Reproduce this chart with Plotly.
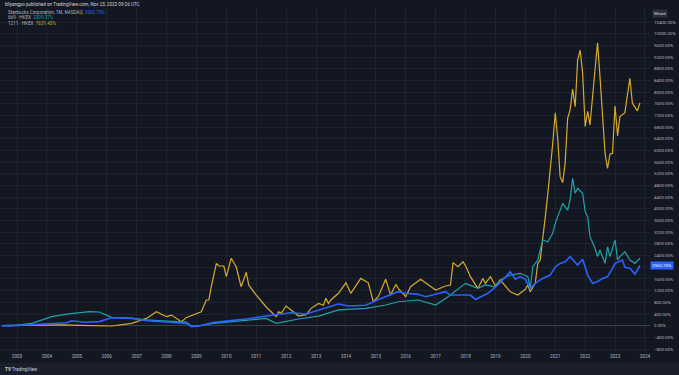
import plotly.graph_objects as go

# ---------------- data (percent change since mid-2002) ----------------
sbux_dates = ["2002-07","2002-10","2003-01","2003-07","2004-01","2004-09","2004-11","2005-04","2005-10",
              "2006-03","2006-11","2007-05","2008-01","2008-09","2008-11","2009-02","2009-08","2010-03",
              "2010-09","2011-05","2011-10","2012-03","2012-09","2013-02","2013-10","2014-02","2014-09",
              "2015-02","2015-10","2016-01","2016-06","2016-09","2017-05","2017-07","2018-03","2018-05",
              "2018-10","2019-02","2019-07","2019-09","2019-11","2020-01","2020-03","2020-05","2020-08",
              "2020-11","2021-01","2021-03","2021-05","2021-07","2021-09","2021-10","2021-12","2022-02",
              "2022-04","2022-06","2022-08","2022-10","2022-12","2023-01","2023-04","2023-05","2023-07",
              "2023-09","2023-11"]
sbux_vals = [0,-10,10,40,80,100,170,120,140,
             275,250,170,125,80,-30,-10,115,170,
             230,330,380,445,400,540,745,675,700,
             900,1165,1110,1075,995,1165,1050,1050,900,
             1110,1395,1850,1590,1680,1590,1280,1450,1620,
             1735,2020,2135,2190,2365,2190,2080,2275,1735,
             1450,1505,1620,1680,1965,2135,2250,2000,1965,
             1770,2062.75]

tti_dates = ["2002-07","2003-01","2003-07","2004-01","2004-03","2004-09","2005-02","2005-06","2005-10",
             "2006-01","2006-03","2006-11","2007-05","2008-01","2008-09","2008-11","2009-02","2009-08",
             "2010-03","2011-05","2011-09","2012-06","2013-02","2013-10","2014-09","2015-05","2015-10",
             "2016-06","2017-01","2017-06","2018-01","2018-06","2018-09","2019-01","2019-03","2019-07",
             "2019-11","2020-02","2020-03","2020-04","2020-06","2020-08","2020-10","2020-12","2021-01",
             "2021-03","2021-04","2021-06","2021-07","2021-08","2021-09","2021-10","2021-12","2022-01",
             "2022-02","2022-03","2022-05","2022-06","2022-07","2022-09","2022-10","2022-11","2023-01",
             "2023-02","2023-03","2023-05","2023-07","2023-09","2023-11"]
tti_vals = [0,20,80,250,310,400,445,480,470,
            365,285,260,200,160,120,-20,0,80,
            140,250,80,230,330,540,595,710,820,
            880,710,995,1450,1280,1395,1335,1565,1735,
            1795,1680,1280,2020,2250,2935,2875,3165,3505,
            3960,4190,3960,4305,5050,4535,4705,4535,3905,
            3735,3050,2650,2365,2590,2135,2705,2365,2935,
            2250,2365,2535,2250,2135,2309.37]

byd_dates = ["2002-07","2003-01","2003-07","2004-01","2004-07","2005-02","2005-10","2006-03","2006-11",
             "2007-05","2007-09","2008-01","2008-03","2008-07","2008-09","2009-01","2009-03","2009-05",
             "2009-06","2009-07","2009-09","2009-10","2009-12","2010-01","2010-03","2010-05","2010-07",
             "2010-09","2010-10","2011-01","2011-05","2011-09","2011-10","2011-11","2012-01","2012-03",
             "2012-06","2012-09","2012-11","2013-02","2013-04","2013-05","2013-06","2013-07","2013-10",
             "2014-01","2014-03","2014-07","2014-10","2014-12","2015-02","2015-05","2015-07","2015-09",
             "2015-10","2016-01","2016-03","2016-07","2016-10","2017-01","2017-05","2017-07","2017-08",
             "2017-10","2017-12","2018-01","2018-03","2018-06","2018-08","2018-09","2018-11","2019-01",
             "2019-03","2019-07","2019-10","2020-01","2020-02","2020-03","2020-05","2020-06","2020-07",
             "2020-08","2020-09","2020-10","2020-11","2020-12","2021-01","2021-02","2021-03","2021-04",
             "2021-05","2021-06","2021-07","2021-08","2021-09","2021-10","2021-11","2021-12","2022-01",
             "2022-02","2022-03","2022-04","2022-06","2022-07","2022-09","2022-10","2022-11","2022-12",
             "2023-01","2023-02","2023-03","2023-05","2023-07","2023-08","2023-10","2023-11"]
byd_vals = [0,10,20,40,30,10,-10,-10,80,
            250,480,310,365,140,285,400,480,880,
            880,1335,2135,2045,2045,1680,2310,2020,1335,
            1830,1395,1050,650,310,480,420,675,540,
            330,380,595,765,700,940,760,880,1110,
            1470,1110,1620,1470,820,1000,1590,1050,1415,
            1280,995,1335,1590,1395,1220,1360,1395,2160,
            2020,2190,2050,1680,1280,1620,1450,1680,1360,
            1565,1165,1050,1250,1395,1165,1450,2135,2250,
            2935,3735,4500,5330,6245,7295,6360,5105,4900,
            5560,7100,7390,8100,7500,9100,9440,8645,6825,
            7340,6875,7850,9690,8530,5900,5390,5880,5900,
            7525,6500,7160,7295,8475,7620,7355,7631.43]

series_names = ["Starbucks Corporation, 1M, NASDAQ", "669 · HKEX", "1211 · HKEX"]
series_colors = ["#2962ff", "#22a3a6", "#d6aa2e"]

year_ticks = list(range(2003, 2025))
y_ticks = list(range(-800, 10401, 400))
hidden_tick = 2000  # covered by the last-value label on the price scale

# ---------------- figure ----------------
W, H = 679, 375
L, R, T, B = 0, 29, 8, 23
plot_w, plot_h = W - L - R, H - T - B

def px_x(px):
    return (px - L) / plot_w

def px_y(py):
    return (H - B - py) / plot_h

fig = go.Figure()
fig.add_trace(go.Scatter(x=byd_dates, y=byd_vals, mode="lines", name=series_names[2],
                         line=dict(color=series_colors[2], width=1.2)))
fig.add_trace(go.Scatter(x=tti_dates, y=tti_vals, mode="lines", name=series_names[1],
                         line=dict(color=series_colors[1], width=1.2)))
fig.add_trace(go.Scatter(x=sbux_dates, y=sbux_vals, mode="lines", name=series_names[0],
                         line=dict(color=series_colors[0], width=1.6)))

def fmt(v):
    if v == hidden_tick:
        return ""
    s = f"{abs(v):.2f}%"
    return ("\u2212" + s) if v < 0 else s

font_family = "Roboto, Liberation Sans, sans-serif"
axis_col = "#b2b5be"
grid_col = "#1f2330"

fig.update_layout(
    width=W, height=H, autosize=False,
    margin=dict(l=L, r=R, t=T, b=B, pad=0),
    paper_bgcolor="#131722", plot_bgcolor="#131722",
    showlegend=False,
    font=dict(family=font_family, size=4.6, color=axis_col),
    xaxis=dict(
        type="date", range=["2002-06-07", "2024-03-03"],
        tickvals=[f"{y}-01-01" for y in year_ticks],
        ticktext=[str(y) for y in year_ticks],
        showgrid=True, gridcolor=grid_col, gridwidth=1,
        zeroline=False, showline=False, ticks="",
        tickfont=dict(size=4.6, color=axis_col),
    ),
    yaxis=dict(
        range=[-900, 10880], side="right",
        tickvals=y_ticks, ticktext=[fmt(v) for v in y_ticks],
        showgrid=True, gridcolor=grid_col, gridwidth=1,
        zeroline=True, zerolinecolor="#3b3f4b", zerolinewidth=1,
        showline=False, ticks="", ticklabelstandoff=3, automargin=False,
        tickfont=dict(size=4.4, color=axis_col),
    ),
)

# bottom bar
fig.add_shape(type="rect", xref="paper", yref="paper",
              x0=px_x(0), x1=px_x(W), y0=px_y(363), y1=px_y(H),
              fillcolor="#1b1f2b", line=dict(width=0), layer="below")

ann = []
ann.append(dict(text="bllyangpo published on TradingView.com, Nov 23, 2023 09:26 UTC",
                x=px_x(3), y=px_y(5), font=dict(size=4.6, color="#d1d4dc")))
legend_vals = [sbux_vals[-1], tti_vals[-1], byd_vals[-1]]
for i, (nm, col, v) in enumerate(zip(series_names, series_colors, legend_vals)):
    ann.append(dict(text=f"{nm}  <span style='color:{col}'>{v:.2f}%</span>",
                    x=px_x(6), y=px_y(12.7 + 5.2 * i), font=dict(size=4.6, color="#b2b5be")))
ann.append(dict(text="<b>TV</b> TradingView", x=px_x(3), y=px_y(369),
                font=dict(size=4.6, color="#d1d4dc")))
for a in ann:
    a.update(xref="paper", yref="paper", xanchor="left", yanchor="middle",
             showarrow=False)
    fig.add_annotation(**a)

# "Mixed" scale label
fig.add_annotation(text="Mixed", xref="paper", yref="paper", x=px_x(652), y=px_y(13),
                   xanchor="left", yanchor="middle", showarrow=False,
                   bgcolor="#2a2e39", borderpad=1, font=dict(size=4.4, color="#d1d4dc"))
# last price label
fig.add_annotation(text=f"{sbux_vals[-1]:.2f}%", xref="paper", yref="y", x=1.0, y=sbux_vals[-1],
                   xanchor="left", yanchor="middle", showarrow=False,
                   bgcolor=series_colors[0], borderpad=1, font=dict(size=4.4, color="#ffffff"))

fig.write_html("out.html", config={"displayModeBar": False},
               post_script="document.body.style.margin='0px';document.body.style.overflow='hidden';")
